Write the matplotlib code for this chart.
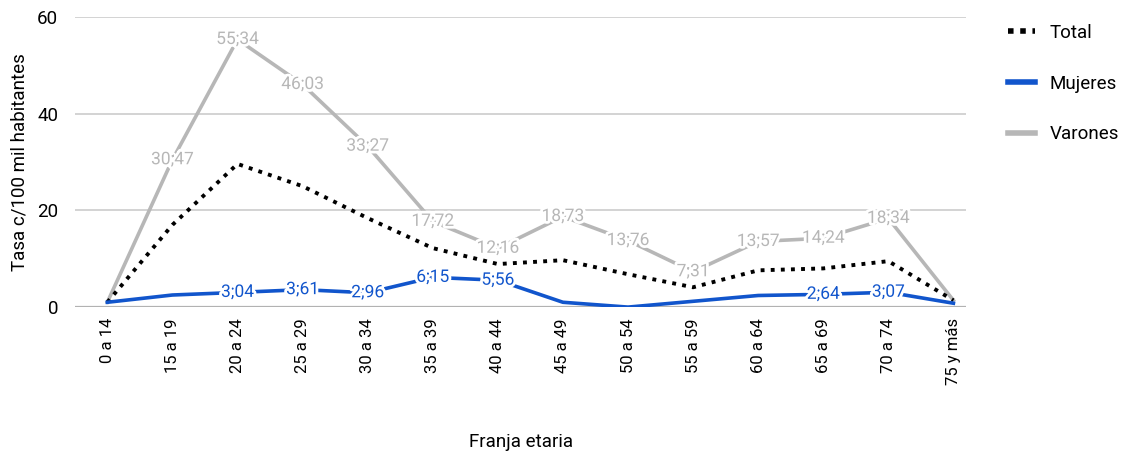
import matplotlib.pyplot as plt
import matplotlib.patheffects as pe
from matplotlib.lines import Line2D

plt.rcParams['font.family'] = ['Roboto', 'DejaVu Sans']

# Datos
franjas = ['0 a 14', '15 a 19', '20 a 24', '25 a 29', '30 a 34', '35 a 39', '40 a 44',
           '45 a 49', '50 a 54', '55 a 59', '60 a 64', '65 a 69', '70 a 74', '75 y más']
total = [1.0, 17.0, 29.6, 25.0, 18.4, 12.2, 8.9, 9.7, 6.8, 4.1, 7.6, 8.0, 9.5, 1.4]
mujeres = [1.0, 2.5, 3.04, 3.61, 2.96, 6.15, 5.56, 1.0, 0.0, 1.2, 2.4, 2.64, 3.07, 0.8]
varones = [1.0, 30.47, 55.34, 46.03, 33.27, 17.72, 12.16, 18.73, 13.76, 7.31, 13.57, 14.24, 18.34, 1.4]

# indices con etiqueta
lab_muj = [2, 3, 4, 5, 6, 11, 12]
lab_var = list(range(1, 13))

azul = '#1155cc'
gris = '#b7b7b7'

fig = plt.figure(figsize=(11.33, 4.57), dpi=100)
ax = fig.add_axes([0.066, 0.328, 0.787, 0.635])

x = list(range(len(franjas)))
ax.plot(x, varones, color=gris, lw=2.6, zorder=2)
ax.plot(x, total, color='black', lw=2.8, linestyle=(0, (1, 1.6)), zorder=3)
ax.plot(x, mujeres, color=azul, lw=2.6, zorder=4)

halo = [pe.withStroke(linewidth=4, foreground='white')]
fmt = lambda v: f'{v:.2f}'.replace('.', ';')
for i in lab_var:
    ax.text(i, varones[i], fmt(varones[i]), color=gris, fontsize=12.5, ha='center',
            va='center', path_effects=halo, zorder=5)
for i in lab_muj:
    ax.text(i, mujeres[i], fmt(mujeres[i]), color=azul, fontsize=12.5, ha='center',
            va='center', path_effects=halo, zorder=6)

ax.set_xlim(-0.5, 13.2)
ax.set_ylim(0, 60)
ax.set_yticks([0, 20, 40, 60])
ax.set_xticks(x)
ax.set_xticklabels(franjas, rotation=90, fontsize=12)
ax.tick_params(axis='y', labelsize=13.5, length=0, pad=12)
ax.tick_params(axis='x', length=0, pad=8)
ax.grid(axis='y', color='#cccccc', lw=1.2)
ax.axhline(0, color='#333333', lw=1.5, zorder=1)
for s in ax.spines.values():
    s.set_visible(False)

ax.set_ylabel('Tasa c/100 mil habitantes', fontsize=13.5, labelpad=6)
ax.set_xlabel('Franja etaria', fontsize=13.5, labelpad=34)

handles = [Line2D([], [], color='black', lw=4, linestyle=(0, (1, 1.2))),
           Line2D([], [], color=azul, lw=4),
           Line2D([], [], color=gris, lw=4)]
fig.legend(handles, ['Total', 'Mujeres', 'Varones'], loc='upper left',
           bbox_to_anchor=(0.875, 0.985), frameon=False, fontsize=13.5,
           handlelength=1.4, labelspacing=1.75, handletextpad=0.8)

fig.savefig('out.png', dpi=100)
